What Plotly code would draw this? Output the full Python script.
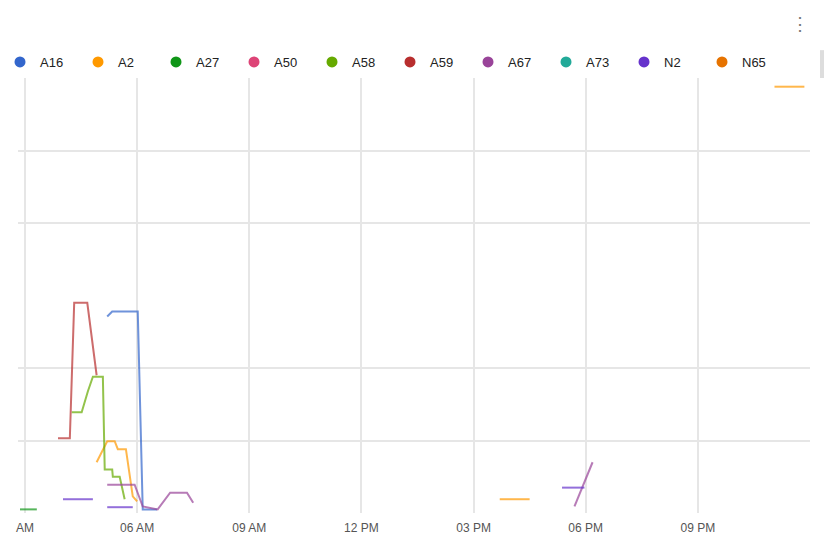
import plotly.graph_objects as go

DAY = "2024-01-01"

series_names = ["A16", "A2", "A27", "A50", "A58", "A59", "A67", "A73", "N2", "N65"]
series_colors = ["#3366cc", "#ff9900", "#109618", "#dd4477", "#66aa00",
                 "#b82e2e", "#994499", "#22aa99", "#6633cc", "#e67300"]

# readings per sensor (time of day, level); None breaks the line
a16_times = ["05:12", "05:20", "06:01", "06:09", "06:32"]
a16_values = [27.1, 27.8, 27.8, 0.5, 0.5]

a2_times = ["04:55", "05:12", "05:24", "05:29", "05:42", "05:53", "06:00",
            "10:00", "15:42", "16:30", "20:00", "23:03", "23:51"]
a2_values = [7.0, 9.9, 9.9, 8.8, 8.8, 2.3, 1.6,
             None, 1.9, 1.9, None, 58.8, 58.8]

a27_times = ["02:52", "03:19"]
a27_values = [0.5, 0.5]

a50_times = []
a50_values = []

a58_times = ["04:15", "04:31", "04:41", "04:49", "05:05", "05:08",
             "05:20", "05:21", "05:32", "05:40"]
a58_values = [13.9, 13.9, 16.8, 18.8, 18.8, 6.0, 6.0, 5.0, 5.0, 1.9]

a59_times = ["03:53", "04:12", "04:19", "04:40", "04:55"]
a59_values = [10.3, 10.3, 29.0, 29.0, 19.0]

a67_times = ["05:12", "05:56", "06:09", "06:33", "06:53", "07:20", "07:30",
             "12:00", "17:42", "18:11"]
a67_values = [3.9, 3.9, 0.9, 0.5, 2.8, 2.8, 1.4, None, 0.9, 7.0]

a73_times = []
a73_values = []

n2_times = ["04:01", "04:49", "05:00", "05:12", "05:53", "12:00", "17:22", "17:58"]
n2_values = [1.9, 1.9, None, 0.8, 0.8, None, 3.5, 3.5]

n65_times = []
n65_values = []

tick_times = ["03:00", "06:00", "09:00", "12:00", "15:00", "18:00", "21:00"]
tick_labels = ["AM", "06 AM", "09 AM", "12 PM", "03 PM", "06 PM", "09 PM"]
grid_levels = [10, 20, 40, 50]

series_data = {
    "A16": (a16_times, a16_values),
    "A2": (a2_times, a2_values),
    "A27": (a27_times, a27_values),
    "A50": (a50_times, a50_values),
    "A58": (a58_times, a58_values),
    "A59": (a59_times, a59_values),
    "A67": (a67_times, a67_values),
    "A73": (a73_times, a73_values),
    "N2": (n2_times, n2_values),
    "N65": (n65_times, n65_values),
}


def stamp(t):
    return f"{DAY} {t}"


fig = go.Figure()

for name, color in zip(series_names, series_colors):
    times, values = series_data[name]
    fig.add_trace(go.Scatter(
        x=[stamp(t) for t in times], y=values, mode="lines",
        line=dict(color=color, width=2), opacity=0.7,
        connectgaps=False, showlegend=False, legendgroup=name, name=name,
    ))
    # round legend swatch for the series
    fig.add_trace(go.Scatter(
        x=[None], y=[None], mode="markers", name=name, legendgroup=name,
        marker=dict(color=color, size=11, symbol="circle"),
    ))

# menu glyph and scroll handle in the top-right corner
fig.add_annotation(
    text="⋮", xref="paper", yref="paper", x=1.0015, y=1.152,
    showarrow=False, font=dict(size=18, color="#777777"),
)
fig.add_shape(
    type="rect", xref="paper", yref="paper",
    x0=1.0126, x1=1.0177, y0=1.0, y1=1.064,
    fillcolor="#dddddd", line=dict(width=0),
)

fig.update_layout(
    width=827, height=538,
    margin=dict(l=18, r=17, t=78, b=25, autoexpand=False),
    paper_bgcolor="white", plot_bgcolor="white",
    font=dict(family="Arial, Liberation Sans, sans-serif", color="#222222"),
    legend=dict(
        orientation="h", xref="container", yref="container",
        x=0.0, xanchor="left", y=1 - 62 / 538, yanchor="middle",
        entrywidth=33, entrywidthmode="pixels",
        font=dict(size=13, color="#222222"), bgcolor="rgba(0,0,0,0)",
        itemclick=False,
    ),
    xaxis=dict(
        type="date",
        range=[stamp("02:48:48"), "2024-01-02 00:00"],
        tickvals=[stamp(t) for t in tick_times], ticktext=tick_labels,
        showgrid=True, gridcolor="#e6e6e6", gridwidth=2,
        zeroline=False, showline=False, ticks="", ticklabelstandoff=6,
        tickfont=dict(size=12, color="#555555"),
    ),
    yaxis=dict(
        range=[0, 60], tickvals=grid_levels, showticklabels=False,
        showgrid=True, gridcolor="#e6e6e6", gridwidth=2,
        zeroline=False, showline=False, ticks="",
    ),
)

fig.write_html("out.html")
